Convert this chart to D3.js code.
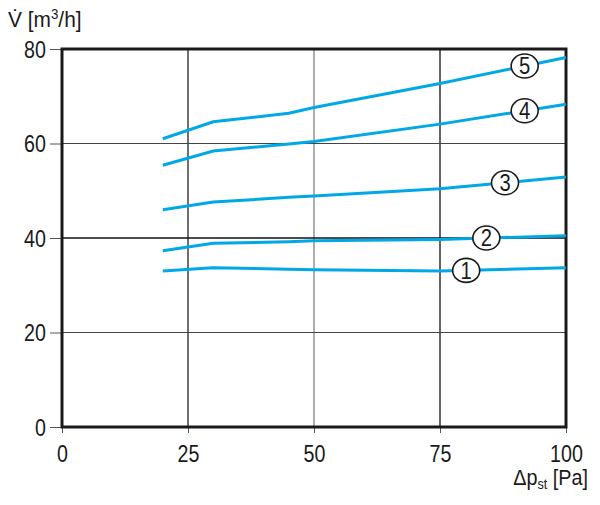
<!DOCTYPE html>
<html>
<head>
<meta charset="utf-8">
<script src="https://cdn.jsdelivr.net/npm/d3@7"></script>
<style>
  body { margin: 0; background: #fff; }
  svg text { font-family: "Liberation Sans", Arial, sans-serif; fill: #1a1a1a; }
</style>
</head>
<body>
<div class="chart"></div>
<script>
const xTicks = [0, 25, 50, 75, 100];
const yTicks = [0, 20, 40, 60, 80];
const pressure = [20, 30, 45, 50, 75, 100];

const curve1 = [33.0, 33.7, 33.4, 33.3, 33.0, 33.7];
const curve2 = [37.3, 38.9, 39.2, 39.4, 39.7, 40.5];
const curve3 = [46.0, 47.6, 48.6, 48.9, 50.4, 52.9];
const curve4 = [55.4, 58.4, 59.9, 60.4, 64.1, 68.3];
const curve5 = [61.0, 64.6, 66.4, 67.6, 72.7, 78.2];

const curveNames = ["1", "2", "3", "4", "5"];
const labelAt = [80.2, 84.2, 87.9, 91.8, 91.8];

const margin = { top: 49, right: 34, bottom: 78, left: 62 };
const width = 600;
const height = 505;
const squeeze = 0.82; // condensed look of the original lettering

const x = d3.scaleLinear().domain([0, 100]).range([margin.left, width - margin.right]);
const y = d3.scaleLinear().domain([0, 80]).range([height - margin.bottom, margin.top]);

const svg = d3.select(".chart").append("svg")
  .attr("width", width)
  .attr("height", height);

// squeeze text horizontally around its anchor point
function condense(sel) {
  sel.each(function () {
    const t = d3.select(this);
    const tx = +t.attr("x") || 0;
    const ty = +t.attr("y") || 0;
    t.attr("x", 0).attr("y", 0)
      .attr("transform", `translate(${tx},${ty}) scale(${squeeze},1)`);
  });
}

// grid
const gridStroke = { 25: "#333", 50: "#777", 75: "#222" };
svg.append("g").selectAll("line")
  .data([25, 50, 75])
  .join("line")
  .attr("x1", d => x(d)).attr("x2", d => x(d))
  .attr("y1", y(80)).attr("y2", y(0))
  .attr("stroke", d => gridStroke[d])
  .attr("stroke-width", d => d === 50 ? 1.2 : 1.4);

const hStroke = { 20: "#444", 40: "#111", 60: "#444" };
svg.append("g").selectAll("line")
  .data([20, 40, 60])
  .join("line")
  .attr("x1", x(0)).attr("x2", x(100))
  .attr("y1", d => y(d)).attr("y2", d => y(d))
  .attr("stroke", d => hStroke[d])
  .attr("stroke-width", d => d === 40 ? 1.6 : 1.2);

// axes
const xAxis = svg.append("g")
  .attr("transform", `translate(0,${y(0)})`)
  .call(d3.axisBottom(x).tickValues(xTicks).tickSize(6).tickPadding(12).tickSizeOuter(0));
xAxis.select(".domain").remove();
xAxis.selectAll("line").attr("stroke", "#555");
xAxis.selectAll("text")
  .attr("font-size", 24)
  .style("font-family", "'Liberation Sans', Arial, sans-serif")
  .attr("fill", "#1a1a1a")
  .call(condense);

const yAxis = svg.append("g")
  .attr("transform", `translate(${x(0)},0)`)
  .call(d3.axisLeft(y).tickValues(yTicks).tickSize(12).tickPadding(4).tickSizeOuter(0));
yAxis.select(".domain").remove();
yAxis.selectAll("line").attr("stroke", "#555");
yAxis.selectAll("text")
  .attr("font-size", 24)
  .attr("dy", "0.35em")
  .style("font-family", "'Liberation Sans', Arial, sans-serif")
  .attr("fill", "#1a1a1a")
  .call(condense);

// frame
svg.append("rect")
  .attr("x", x(0)).attr("y", y(80))
  .attr("width", x(100) - x(0)).attr("height", y(0) - y(80))
  .attr("fill", "none")
  .attr("stroke", "#1a1a1a")
  .attr("stroke-width", 3);

// curves
const series = [curve1, curve2, curve3, curve4, curve5];
const line = d3.line()
  .x((d, i) => x(pressure[i]))
  .y(d => y(d));

svg.append("g").selectAll("path")
  .data(series)
  .join("path")
  .attr("d", line)
  .attr("fill", "none")
  .attr("stroke", "#00a8e6")
  .attr("stroke-width", 3);

// circled labels
function valueAt(s, p) {
  const f = d3.scaleLinear().domain(pressure).range(s);
  return f(p);
}
const labels = svg.append("g").selectAll("g")
  .data(series)
  .join("g")
  .attr("transform", (s, i) => `translate(${x(labelAt[i])},${y(valueAt(s, labelAt[i]))})`);
labels.append("ellipse")
  .attr("rx", 13.5)
  .attr("ry", 12)
  .attr("fill", "#fff")
  .attr("stroke", "#1a1a1a")
  .attr("stroke-width", 1.6);
labels.append("text")
  .attr("text-anchor", "middle")
  .attr("transform", "scale(0.88,1)")
  .attr("dy", "0.36em")
  .attr("font-size", 23)
  .text((s, i) => curveNames[i]);

// axis titles
const yTitle = svg.append("text")
  .attr("transform", "translate(8,27) scale(0.95,1)")
  .attr("font-size", 22);
yTitle.append("tspan").text("V̇ [m");
yTitle.append("tspan").attr("font-size", 14).attr("dy", -8).text("3");
yTitle.append("tspan").attr("dy", 8).text("/h]");

const xTitle = svg.append("text")
  .attr("transform", "translate(588,485) scale(0.9,1)")
  .attr("text-anchor", "end")
  .attr("font-size", 22);
xTitle.append("tspan").text("Δp");
xTitle.append("tspan").attr("font-size", 14).attr("dy", 4).text("st");
xTitle.append("tspan").attr("dy", -4).text(" [Pa]");
</script>
</body>
</html>
